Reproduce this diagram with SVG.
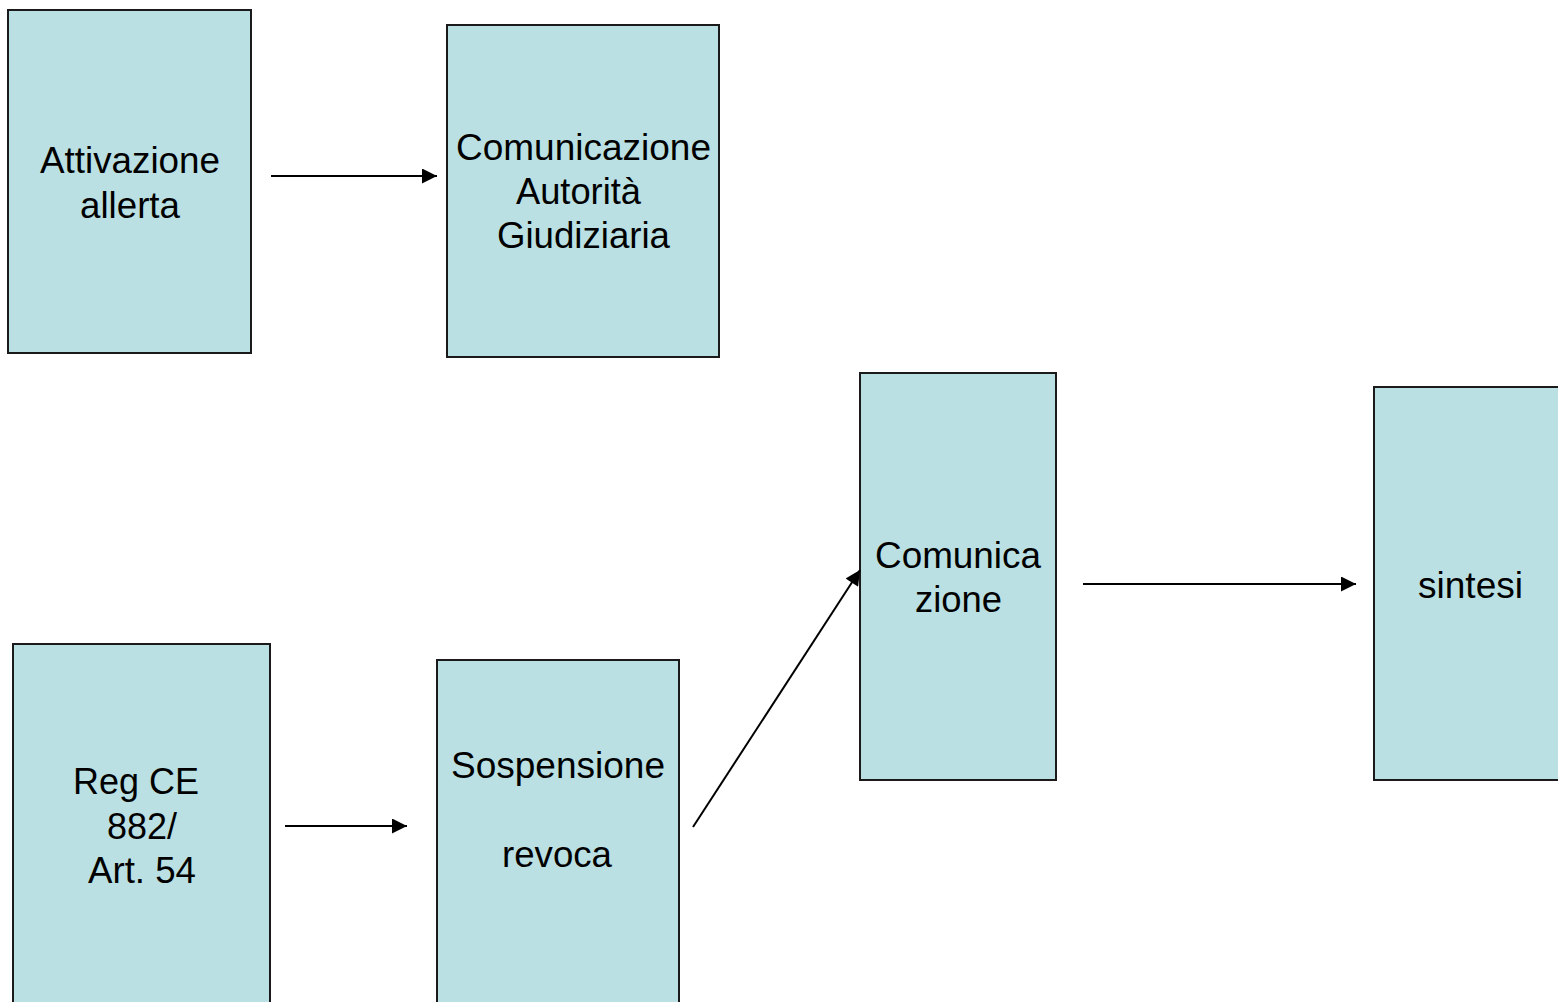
<svg xmlns="http://www.w3.org/2000/svg" width="1558" height="1002" viewBox="0 0 1558 1002">
  <style>
    .box { fill: #BAE0E3; stroke: #1a1a1a; stroke-width: 2; }
    .lbl { font-family: "Liberation Sans", Arial, sans-serif; font-size: 36px; fill: #000; }
    .conn { stroke: #000; stroke-width: 2; fill: none; }
  </style>
  <defs>
    <marker id="arrow" viewBox="0 0 10 10" refX="10" refY="5" markerWidth="8" markerHeight="7.5" markerUnits="strokeWidth" orient="auto">
      <path d="M0,0 L10,5 L0,10 Z" fill="#000"/>
    </marker>
  </defs>
  <rect width="1558" height="1002" fill="#fff"/>

  <g id="node-attivazione">
    <rect class="box" x="8" y="10" width="243" height="343"/>
    <text class="lbl" x="40" y="173" textLength="180" lengthAdjust="spacingAndGlyphs">Attivazione</text>
    <text class="lbl" x="80" y="218" textLength="100" lengthAdjust="spacingAndGlyphs">allerta</text>
  </g>

  <g id="node-comunicazione-ag">
    <rect class="box" x="447" y="25" width="272" height="332"/>
    <text class="lbl" x="456" y="160" textLength="255" lengthAdjust="spacingAndGlyphs">Comunicazione</text>
    <text class="lbl" x="516" y="204" textLength="125" lengthAdjust="spacingAndGlyphs">Autorità</text>
    <text class="lbl" x="497" y="248" textLength="173" lengthAdjust="spacingAndGlyphs">Giudiziaria</text>
  </g>

  <g id="node-comunicazione">
    <rect class="box" x="860" y="373" width="196" height="407"/>
    <text class="lbl" x="875" y="568" textLength="166" lengthAdjust="spacingAndGlyphs">Comunica</text>
    <text class="lbl" x="915" y="612" textLength="87" lengthAdjust="spacingAndGlyphs">zione</text>
  </g>

  <g id="node-sintesi">
    <rect class="box" x="1374" y="387" width="190" height="393"/>
    <text class="lbl" x="1418" y="598" textLength="105" lengthAdjust="spacingAndGlyphs">sintesi</text>
  </g>

  <g id="node-reg">
    <rect class="box" x="13" y="644" width="257" height="370"/>
    <text class="lbl" x="73" y="794" textLength="126" lengthAdjust="spacingAndGlyphs">Reg CE</text>
    <text class="lbl" x="107" y="839" textLength="70" lengthAdjust="spacingAndGlyphs">882/</text>
    <text class="lbl" x="88" y="883" textLength="108" lengthAdjust="spacingAndGlyphs">Art. 54</text>
  </g>

  <g id="node-sospensione">
    <rect class="box" x="437" y="660" width="242" height="354"/>
    <text class="lbl" x="451" y="778" textLength="214" lengthAdjust="spacingAndGlyphs">Sospensione</text>
    <text class="lbl" x="502" y="867" textLength="110" lengthAdjust="spacingAndGlyphs">revoca</text>
  </g>

  <g id="connectors">
    <line class="conn" x1="271" y1="176" x2="437" y2="176" marker-end="url(#arrow)"/>
    <line class="conn" x1="285" y1="826" x2="407" y2="826" marker-end="url(#arrow)"/>
    <line class="conn" x1="693" y1="827" x2="860" y2="570" marker-end="url(#arrow)"/>
    <line class="conn" x1="1083" y1="584" x2="1356" y2="584" marker-end="url(#arrow)"/>
  </g>
</svg>
